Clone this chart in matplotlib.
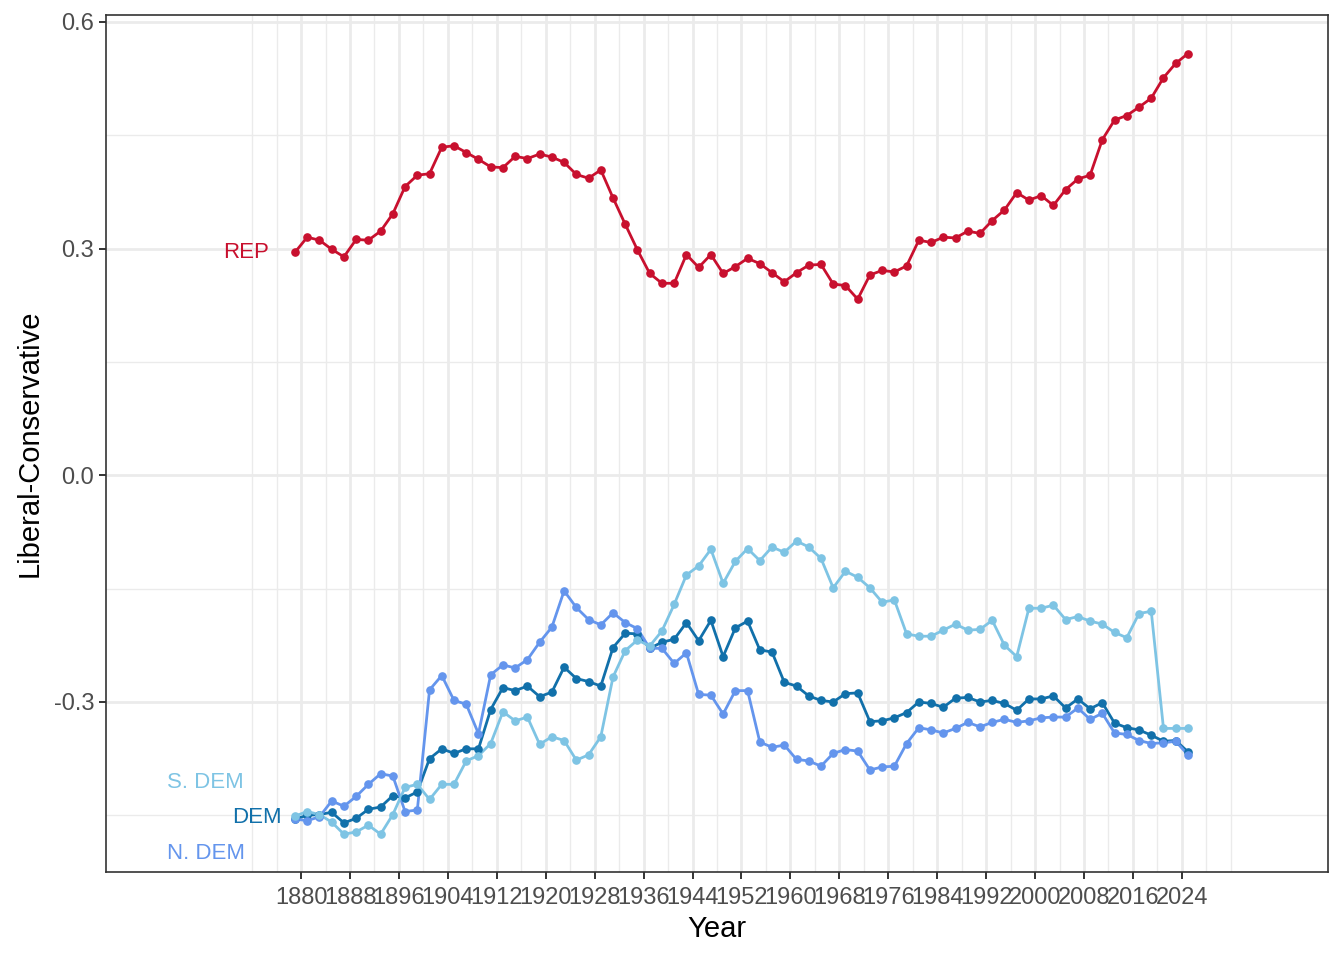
import numpy as np
import matplotlib
matplotlib.use("Agg")
import matplotlib.pyplot as plt

plt.rcParams["font.family"] = ["Liberation Sans", "DejaVu Sans"]
plt.rcParams["axes.unicode_minus"] = False

# Congress start years, every two years
years = np.arange(1879, 2026, 2)

rep = [
    0.295, 0.315, 0.311, 0.299, 0.289, 0.312, 0.311, 0.323, 0.346, 0.382,
    0.397, 0.399, 0.434, 0.436, 0.427, 0.418, 0.408, 0.407, 0.422, 0.419,
    0.425, 0.421, 0.414, 0.398, 0.393, 0.404, 0.367, 0.332, 0.298, 0.267,
    0.254, 0.254, 0.292, 0.275, 0.292, 0.267, 0.276, 0.287, 0.280, 0.268,
    0.256, 0.268, 0.278, 0.279, 0.253, 0.251, 0.233, 0.265, 0.271, 0.269,
    0.277, 0.311, 0.308, 0.315, 0.314, 0.323, 0.320, 0.337, 0.351, 0.374,
    0.364, 0.370, 0.357, 0.378, 0.392, 0.397, 0.444, 0.470, 0.476, 0.487,
    0.499, 0.526, 0.545, 0.558,
]

dem = [
    -0.455, -0.450, -0.449, -0.446, -0.460, -0.454, -0.442, -0.439, -0.424, -0.427,
    -0.419, -0.375, -0.362, -0.368, -0.362, -0.362, -0.310, -0.281, -0.285, -0.279,
    -0.293, -0.287, -0.254, -0.269, -0.273, -0.279, -0.228, -0.209, -0.210, -0.229,
    -0.221, -0.217, -0.195, -0.219, -0.192, -0.240, -0.202, -0.193, -0.231, -0.234,
    -0.274, -0.279, -0.292, -0.298, -0.300, -0.289, -0.288, -0.326, -0.325, -0.321,
    -0.314, -0.300, -0.302, -0.307, -0.295, -0.294, -0.300, -0.298, -0.302, -0.311,
    -0.296, -0.296, -0.292, -0.308, -0.296, -0.309, -0.301, -0.328, -0.334, -0.337,
    -0.344, -0.352, -0.351, -0.366,
]

n_dem = [
    -0.455, -0.457, -0.452, -0.431, -0.438, -0.425, -0.409, -0.395, -0.398, -0.445,
    -0.443, -0.284, -0.265, -0.298, -0.303, -0.342, -0.264, -0.251, -0.255, -0.244,
    -0.221, -0.201, -0.153, -0.175, -0.191, -0.198, -0.182, -0.195, -0.203, -0.229,
    -0.229, -0.249, -0.235, -0.290, -0.291, -0.316, -0.285, -0.285, -0.353, -0.360,
    -0.357, -0.376, -0.378, -0.385, -0.368, -0.363, -0.365, -0.390, -0.386, -0.385,
    -0.355, -0.334, -0.337, -0.341, -0.335, -0.327, -0.333, -0.327, -0.323, -0.327,
    -0.325, -0.321, -0.320, -0.320, -0.308, -0.323, -0.315, -0.341, -0.343, -0.351,
    -0.355, -0.354, -0.352, -0.370,
]

s_dem = [
    -0.451, -0.445, -0.449, -0.459, -0.475, -0.472, -0.463, -0.475, -0.449, -0.413,
    -0.409, -0.429, -0.409, -0.409, -0.378, -0.371, -0.355, -0.313, -0.325, -0.320,
    -0.356, -0.346, -0.351, -0.377, -0.370, -0.346, -0.267, -0.232, -0.218, -0.226,
    -0.206, -0.171, -0.132, -0.120, -0.098, -0.143, -0.114, -0.097, -0.113, -0.095,
    -0.102, -0.087, -0.095, -0.110, -0.149, -0.127, -0.135, -0.149, -0.168, -0.165,
    -0.210, -0.213, -0.213, -0.205, -0.197, -0.205, -0.204, -0.192, -0.225, -0.240,
    -0.176, -0.176, -0.172, -0.191, -0.187, -0.193, -0.197, -0.208, -0.215, -0.183,
    -0.180, -0.335, -0.335, -0.335,
]

series = [
    ("DEM", dem, "#1170AA"),
    ("N. DEM", n_dem, "#6495ED"),
    ("REP", rep, "#C8102E"),
    ("S. DEM", s_dem, "#7EC4E4"),
]

# label positions (year, value)
labels = {
    "REP": (1871.0, 0.295),
    "S. DEM": (1864.4, -0.406),
    "DEM": (1872.7, -0.453),
    "N. DEM": (1864.4, -0.501),
}

fig = plt.figure(figsize=(13.44, 9.6), dpi=100)
ax = fig.add_axes([106 / 1344, 1 - 872 / 960, (1328 - 106) / 1344, (872 - 15) / 960])

for name, vals, color in series:
    ax.plot(years, vals, color=color, lw=2.0, zorder=3)
for name, vals, color in series:
    ax.plot(years, vals, "o", color=color, ms=5.2, mec=color, zorder=4)
    lx, ly = labels[name]
    ax.text(lx, ly, name, color=color, fontsize=16, ha="center", va="center")

ax.set_xlim(1848.1, 2047.9)
ax.set_ylim(-0.525, 0.609)

xticks = np.arange(1880, 2025, 8)
ax.set_xticks(xticks)
ax.set_xticklabels([str(x) for x in xticks])
ax.set_xticks(np.arange(1872, 2033, 4), minor=True)
yticks = [-0.3, 0.0, 0.3, 0.6]
ax.set_yticks(yticks)
ax.set_yticklabels(["-0.3", "0.0", "0.3", "0.6"])
ax.set_yticks([-0.45, -0.15, 0.15, 0.45], minor=True)

ax.grid(which="major", color="#EBEBEB", lw=2.0, zorder=0)
ax.grid(which="minor", color="#EBEBEB", lw=1.0, zorder=0)
ax.set_axisbelow(True)

ax.tick_params(axis="both", which="major", length=5, width=1.4, color="#333333",
               labelsize=17, labelcolor="#4D4D4D", pad=3.5)
ax.tick_params(axis="x", which="major", pad=6)
ax.tick_params(axis="both", which="minor", length=0)
for sp in ax.spines.values():
    sp.set_color("#333333")
    sp.set_linewidth(1.2)

ax.set_xlabel("Year", fontsize=21, color="black", labelpad=4)
ax.set_ylabel("Liberal-Conservative", fontsize=21, color="black", labelpad=7)

fig.savefig("out.png", dpi=100)
